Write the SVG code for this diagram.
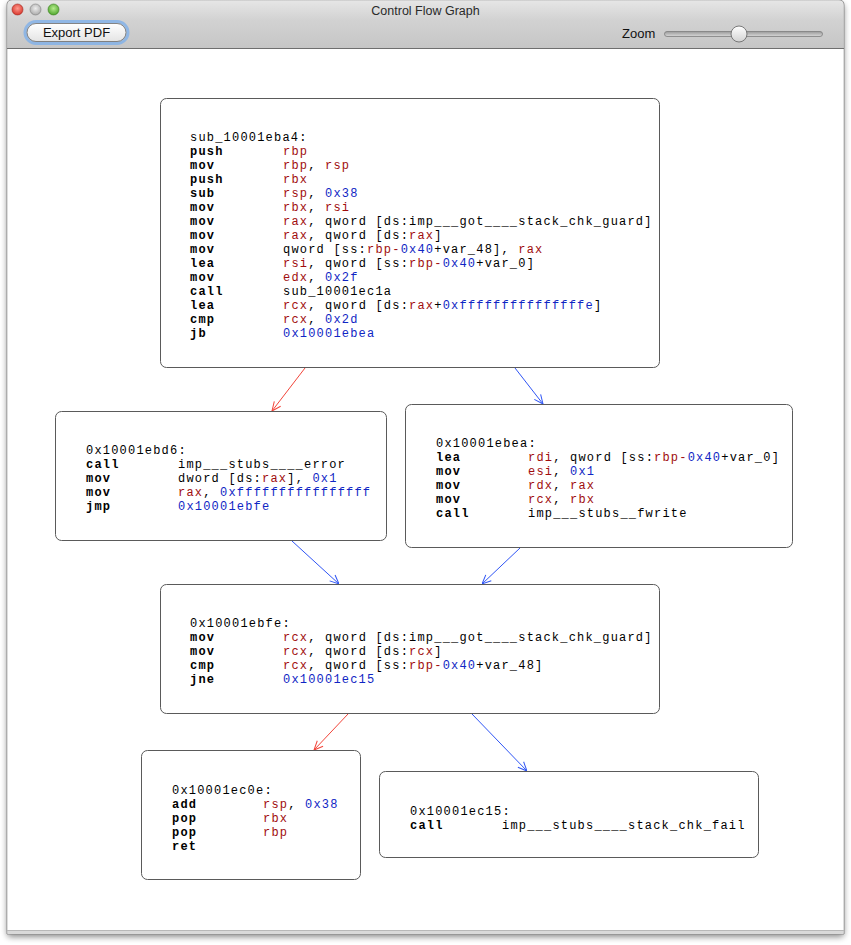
<svg xmlns="http://www.w3.org/2000/svg" width="851" height="945" viewBox="0 0 851 945">
  <defs>
    <style>
      .win-title { font-family: "Liberation Sans", Arial, sans-serif; font-size: 12.5px; fill: #2a2a2a; }
      .ui { font-family: "Liberation Sans", Arial, sans-serif; font-size: 13px; fill: #111; }
      .block { fill: #ffffff; stroke: #5a5a5a; stroke-width: 1; }
      .asm { font-family: "Liberation Mono", "Courier New", monospace; font-size: 12px; letter-spacing: 1.2px; fill: #000; white-space: pre; }
      .mn { font-weight: bold; }
      .r { fill: #a00d0d; }
      .n { fill: #1026c4; }
      .edge { fill: none; stroke-width: 1; }
      .taken { stroke: #f2453a; }
      .fall { stroke: #2f55f5; }
    </style>
    <linearGradient id="titleGrad" x1="0" y1="0" x2="0" y2="1">
      <stop offset="0" stop-color="#e6e6e6"/>
      <stop offset="1" stop-color="#d2d2d2"/>
    </linearGradient>
    <linearGradient id="toolGrad" x1="0" y1="0" x2="0" y2="1">
      <stop offset="0" stop-color="#d2d2d2"/>
      <stop offset="1" stop-color="#c6c6c6"/>
    </linearGradient>
    <linearGradient id="btnGrad" x1="0" y1="0" x2="0" y2="1">
      <stop offset="0" stop-color="#ffffff"/>
      <stop offset="1" stop-color="#e4e4e4"/>
    </linearGradient>
    <linearGradient id="knobGrad" x1="0" y1="0" x2="0" y2="1">
      <stop offset="0" stop-color="#ffffff"/>
      <stop offset="1" stop-color="#d2d2d2"/>
    </linearGradient>
    <linearGradient id="trackGrad" x1="0" y1="0" x2="0" y2="1">
      <stop offset="0" stop-color="#9a9a9a"/>
      <stop offset="1" stop-color="#d8d8d8"/>
    </linearGradient>
    <radialGradient id="redLight" cx="0.5" cy="0.4" r="0.6">
      <stop offset="0" stop-color="#ff9a8e"/>
      <stop offset="1" stop-color="#d8352b"/>
    </radialGradient>
    <radialGradient id="greyLight" cx="0.5" cy="0.4" r="0.6">
      <stop offset="0" stop-color="#eeeeee"/>
      <stop offset="1" stop-color="#a9a9a9"/>
    </radialGradient>
    <radialGradient id="greenLight" cx="0.5" cy="0.4" r="0.6">
      <stop offset="0" stop-color="#b6ec8e"/>
      <stop offset="1" stop-color="#4ea52c"/>
    </radialGradient>
    <filter id="shadow" x="-5%" y="-5%" width="110%" height="110%">
      <feGaussianBlur stdDeviation="3"/>
    </filter>
    <marker id="arrowRed" viewBox="0 0 10 10" refX="10" refY="5" markerWidth="10" markerHeight="10" markerUnits="userSpaceOnUse" orient="auto">
      <path d="M1,1 L10,5 L1,9" fill="none" stroke="#f2453a" stroke-width="1"/>
    </marker>
    <marker id="arrowBlue" viewBox="0 0 10 10" refX="10" refY="5" markerWidth="10" markerHeight="10" markerUnits="userSpaceOnUse" orient="auto">
      <path d="M1,1 L10,5 L1,9" fill="none" stroke="#2f55f5" stroke-width="1"/>
    </marker>
  </defs>

  <!-- page -->
  <rect x="0" y="0" width="851" height="945" fill="#ffffff"/>

  <!-- window shadow and frame -->
  <rect x="7" y="4" width="837" height="933" rx="4" fill="#000" opacity="0.45" filter="url(#shadow)"/>
  <g id="window">
    <path d="M7,5 Q7,0 12,0 L839,0 Q844,0 844,5 L844,934 L7,934 Z" fill="#ececec" stroke="#8a8a8a" stroke-width="1"/>
    <path d="M7.5,5 Q7.5,0.5 12,0.5 L839,0.5 Q843.5,0.5 843.5,5 L843.5,20 L7.5,20 Z" fill="url(#titleGrad)"/>
    <rect x="7.5" y="20" width="836" height="28" fill="url(#toolGrad)"/>
    <line x1="7" y1="48.5" x2="844" y2="48.5" stroke="#6f6f6f"/>
    <rect x="7.5" y="49" width="836" height="881" fill="#ffffff"/>
    <rect x="7.5" y="930" width="836" height="4" fill="#d9d9d9"/>
    <line x1="7" y1="930.5" x2="844" y2="930.5" stroke="#b8b8b8"/>
  </g>

  <!-- title bar -->
  <g id="titlebar">
    <circle cx="17.5" cy="9.5" r="5.5" fill="url(#redLight)" stroke="#9e2a22" stroke-width="0.6"/>
    <circle cx="35.5" cy="9.5" r="5.5" fill="url(#greyLight)" stroke="#7f7f7f" stroke-width="0.6"/>
    <circle cx="53.5" cy="9.5" r="5.5" fill="url(#greenLight)" stroke="#3d7d22" stroke-width="0.6"/>
    <text class="win-title" x="425.5" y="15" text-anchor="middle">Control Flow Graph</text>
  </g>

  <!-- toolbar -->
  <g id="toolbar">
    <rect x="25" y="21.5" width="103" height="22" rx="11" fill="none" stroke="#7fb0ea" stroke-width="3" opacity="0.8"/>
    <rect x="27" y="23.5" width="99" height="18" rx="9" fill="url(#btnGrad)" stroke="#6a6a6a" stroke-width="0.8"/>
    <text class="ui" x="76.5" y="37" text-anchor="middle">Export PDF</text>
    <text class="ui" x="622" y="38">Zoom</text>
    <rect x="664.5" y="31.5" width="158" height="5" rx="2.5" fill="url(#trackGrad)" stroke="#7d7d7d" stroke-width="0.8"/>
    <circle cx="739" cy="34" r="8" fill="url(#knobGrad)" stroke="#6c6c6c" stroke-width="0.9"/>
  </g>

  <!-- connectors -->
  <g id="edges">
    <line class="edge taken" x1="305" y1="368" x2="272" y2="411" marker-end="url(#arrowRed)"/>
    <line class="edge fall" x1="515" y1="368" x2="543" y2="404" marker-end="url(#arrowBlue)"/>
    <line class="edge fall" x1="292" y1="541" x2="339" y2="584" marker-end="url(#arrowBlue)"/>
    <line class="edge fall" x1="520" y1="548" x2="482" y2="584" marker-end="url(#arrowBlue)"/>
    <line class="edge taken" x1="348" y1="714" x2="314" y2="750" marker-end="url(#arrowRed)"/>
    <line class="edge fall" x1="472" y1="714" x2="527" y2="771" marker-end="url(#arrowBlue)"/>
  </g>

  <!-- sub_10001eba4 -->
  <g id="block_10001eba4">
    <rect class="block" x="160.5" y="98.5" width="499" height="269" rx="6"/>
    <text class="asm" x="190" y="141">sub_10001eba4:</text>
    <text class="asm mn" x="190" y="155">push</text><text class="asm" x="283" y="155"><tspan class="r">rbp</tspan></text>
    <text class="asm mn" x="190" y="169">mov</text><text class="asm" x="283" y="169"><tspan class="r">rbp</tspan>, <tspan class="r">rsp</tspan></text>
    <text class="asm mn" x="190" y="183">push</text><text class="asm" x="283" y="183"><tspan class="r">rbx</tspan></text>
    <text class="asm mn" x="190" y="197">sub</text><text class="asm" x="283" y="197"><tspan class="r">rsp</tspan>, <tspan class="n">0x38</tspan></text>
    <text class="asm mn" x="190" y="211">mov</text><text class="asm" x="283" y="211"><tspan class="r">rbx</tspan>, <tspan class="r">rsi</tspan></text>
    <text class="asm mn" x="190" y="225">mov</text><text class="asm" x="283" y="225"><tspan class="r">rax</tspan>, qword [ds:imp___got____stack_chk_guard]</text>
    <text class="asm mn" x="190" y="239">mov</text><text class="asm" x="283" y="239"><tspan class="r">rax</tspan>, qword [ds:<tspan class="r">rax</tspan>]</text>
    <text class="asm mn" x="190" y="253">mov</text><text class="asm" x="283" y="253">qword [ss:<tspan class="r">rbp-</tspan><tspan class="n">0x40</tspan>+var_48], <tspan class="r">rax</tspan></text>
    <text class="asm mn" x="190" y="267">lea</text><text class="asm" x="283" y="267"><tspan class="r">rsi</tspan>, qword [ss:<tspan class="r">rbp-</tspan><tspan class="n">0x40</tspan>+var_0]</text>
    <text class="asm mn" x="190" y="281">mov</text><text class="asm" x="283" y="281"><tspan class="r">edx</tspan>, <tspan class="n">0x2f</tspan></text>
    <text class="asm mn" x="190" y="295">call</text><text class="asm" x="283" y="295">sub_10001ec1a</text>
    <text class="asm mn" x="190" y="309">lea</text><text class="asm" x="283" y="309"><tspan class="r">rcx</tspan>, qword [ds:<tspan class="r">rax</tspan>+<tspan class="n">0xfffffffffffffffe</tspan>]</text>
    <text class="asm mn" x="190" y="323">cmp</text><text class="asm" x="283" y="323"><tspan class="r">rcx</tspan>, <tspan class="n">0x2d</tspan></text>
    <text class="asm mn" x="190" y="337">jb</text><text class="asm" x="283" y="337"><tspan class="n">0x10001ebea</tspan></text>
  </g>

  <!-- 0x10001ebd6 -->
  <g id="block_10001ebd6">
    <rect class="block" x="55.5" y="411.5" width="331" height="129" rx="6"/>
    <text class="asm" x="86" y="454">0x10001ebd6:</text>
    <text class="asm mn" x="86" y="468">call</text><text class="asm" x="178" y="468">imp___stubs____error</text>
    <text class="asm mn" x="86" y="482">mov</text><text class="asm" x="178" y="482">dword [ds:<tspan class="r">rax</tspan>], <tspan class="n">0x1</tspan></text>
    <text class="asm mn" x="86" y="496">mov</text><text class="asm" x="178" y="496"><tspan class="r">rax</tspan>, <tspan class="n">0xffffffffffffffff</tspan></text>
    <text class="asm mn" x="86" y="510">jmp</text><text class="asm" x="178" y="510"><tspan class="n">0x10001ebfe</tspan></text>
  </g>

  <!-- 0x10001ebea -->
  <g id="block_10001ebea">
    <rect class="block" x="405.5" y="404.5" width="387" height="143" rx="6"/>
    <text class="asm" x="436" y="447">0x10001ebea:</text>
    <text class="asm mn" x="436" y="461">lea</text><text class="asm" x="528" y="461"><tspan class="r">rdi</tspan>, qword [ss:<tspan class="r">rbp-</tspan><tspan class="n">0x40</tspan>+var_0]</text>
    <text class="asm mn" x="436" y="475">mov</text><text class="asm" x="528" y="475"><tspan class="r">esi</tspan>, <tspan class="n">0x1</tspan></text>
    <text class="asm mn" x="436" y="489">mov</text><text class="asm" x="528" y="489"><tspan class="r">rdx</tspan>, <tspan class="r">rax</tspan></text>
    <text class="asm mn" x="436" y="503">mov</text><text class="asm" x="528" y="503"><tspan class="r">rcx</tspan>, <tspan class="r">rbx</tspan></text>
    <text class="asm mn" x="436" y="517">call</text><text class="asm" x="528" y="517">imp___stubs__fwrite</text>
  </g>

  <!-- 0x10001ebfe -->
  <g id="block_10001ebfe">
    <rect class="block" x="160.5" y="584.5" width="499" height="129" rx="6"/>
    <text class="asm" x="190" y="627">0x10001ebfe:</text>
    <text class="asm mn" x="190" y="641">mov</text><text class="asm" x="283" y="641"><tspan class="r">rcx</tspan>, qword [ds:imp___got____stack_chk_guard]</text>
    <text class="asm mn" x="190" y="655">mov</text><text class="asm" x="283" y="655"><tspan class="r">rcx</tspan>, qword [ds:<tspan class="r">rcx</tspan>]</text>
    <text class="asm mn" x="190" y="669">cmp</text><text class="asm" x="283" y="669"><tspan class="r">rcx</tspan>, qword [ss:<tspan class="r">rbp-</tspan><tspan class="n">0x40</tspan>+var_48]</text>
    <text class="asm mn" x="190" y="683">jne</text><text class="asm" x="283" y="683"><tspan class="n">0x10001ec15</tspan></text>
  </g>

  <!-- 0x10001ec0e -->
  <g id="block_10001ec0e">
    <rect class="block" x="141.5" y="750.5" width="219" height="129" rx="6"/>
    <text class="asm" x="172" y="794">0x10001ec0e:</text>
    <text class="asm mn" x="172" y="808">add</text><text class="asm" x="263" y="808"><tspan class="r">rsp</tspan>, <tspan class="n">0x38</tspan></text>
    <text class="asm mn" x="172" y="822">pop</text><text class="asm" x="263" y="822"><tspan class="r">rbx</tspan></text>
    <text class="asm mn" x="172" y="836">pop</text><text class="asm" x="263" y="836"><tspan class="r">rbp</tspan></text>
    <text class="asm mn" x="172" y="850">ret</text>
  </g>

  <!-- 0x10001ec15 -->
  <g id="block_10001ec15">
    <rect class="block" x="379.5" y="771.5" width="379" height="86" rx="6"/>
    <text class="asm" x="410" y="815">0x10001ec15:</text>
    <text class="asm mn" x="410" y="829">call</text><text class="asm" x="502" y="829">imp___stubs____stack_chk_fail</text>
  </g>
</svg>
